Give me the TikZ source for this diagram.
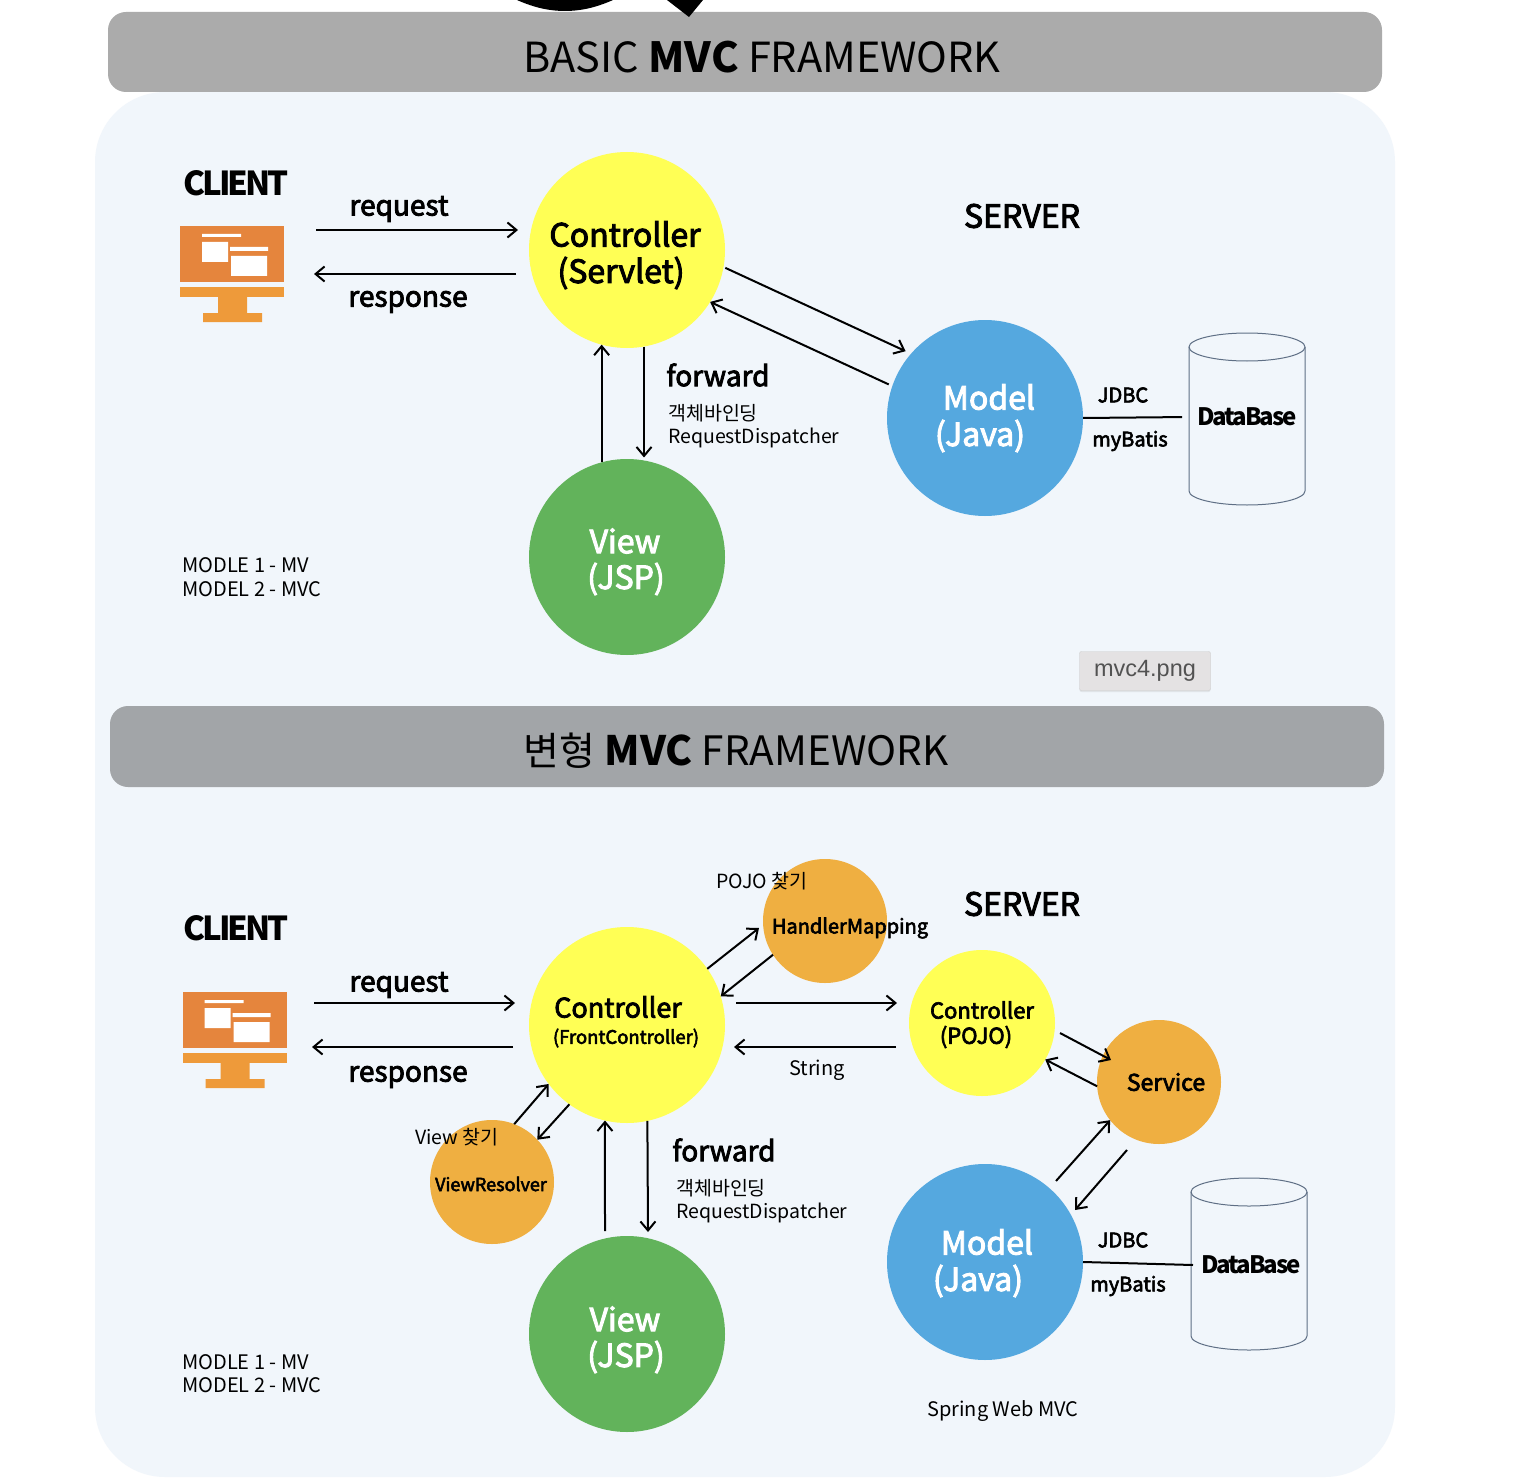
\documentclass[tikz,border=0pt]{standalone}
\usepackage{fontspec}
\setmainfont{Noto Sans CJK KR}
\newfontfamily\medfont{Noto Sans CJK KR}[FakeBold=3]
\newfontfamily\tightfont{Noto Sans CJK KR}[LetterSpace=-9]
\newfontfamily\tagfont{Liberation Sans}
\usetikzlibrary{arrows.meta}
\usetikzlibrary{shadows}
\definecolor{panelbg}{HTML}{F1F6FB}
\definecolor{barA}{HTML}{ABABAB}
\definecolor{barB}{HTML}{A2A5A8}
\definecolor{ctrlyellow}{HTML}{FFFF55}
\definecolor{viewgreen}{HTML}{62B35B}
\definecolor{modelblue}{HTML}{55A8DF}
\definecolor{helperorange}{HTML}{EFAF41}
\definecolor{iconorange}{HTML}{E5853D}
\definecolor{iconlight}{HTML}{EE9A3A}
\definecolor{dbline}{HTML}{5F6F85}
\definecolor{tagfill}{HTML}{E4E2E3}
\newcommand{\fs}[1]{\fontsize{#1}{#1}\selectfont}
\tikzset{
	>={Straight Barb[length=9pt,width=15pt]},
	flow/.style={->,line width=2pt,black},
	bigcircle/.style={circle,minimum size=196pt,inner sep=0pt,outer sep=0pt},
	midcircle/.style={circle,fill=helperorange,minimum size=124pt,inner sep=0pt,outer sep=0pt},
	titlebar/.style={rounded corners=18pt},
	titletext/.style={inner sep=0pt,font=\fs{41.5}},
	bold label/.style={inner sep=0pt,font=\medfont\fs{28}},
	big label/.style={inner sep=0pt,font=\medfont\fs{32}},
	white label/.style={inner sep=0pt,text=white,font=\medfont\fs{32}},
	small label/.style={inner sep=0pt,font=\fs{19.5}},
	client label/.style={inner sep=0pt,font=\tightfont\bfseries\fs{33}},
	dbstore/.style={minimum height=172pt,minimum width=116pt,inner sep=0pt,outer sep=0pt,font=\tightfont\bfseries\fs{24}},
	pics/dbshape/.style={code={
		\draw[dbline,line width=1pt] (0,-72) ellipse [x radius=58pt,y radius=14pt];
		\draw[dbline,line width=1pt] (-58,-72) -- (-58,72) arc [start angle=180,end angle=360,x radius=58pt,y radius=14pt] -- (58,-72);
	}},
	pics/clienticon/.style={code={
		\fill[iconorange] (0,0) rectangle (104,56);
		\fill[white] (22,8) rectangle (61,11) (22,16) rectangle (48,36);
		\fill[white] (50,21) rectangle (88,25) (51,30) rectangle (87,50);
		\fill[iconlight] (0,61) rectangle (104,71);
		\fill[iconlight] (38,71) rectangle (67,87) (23,87) rectangle (82,96);
	}}
}
\begin{document}
\begin{tikzpicture}[x=1pt,y=-1pt]
	\useasboundingbox (0,0) rectangle (1524,1482);
	\fill[white] (0,0) rectangle (1524,1482);
	\fill[panelbg,rounded corners=70pt] (95,92) rectangle (1395,1477);
	\fill[barA,titlebar] (108,12) rectangle (1382,92);
	\fill[barB,titlebar] (110,706) rectangle (1384,787);
	\fill[black] (517,0) .. controls (535,8) and (550,11) .. (565,11) .. controls (580,11) and (595,8) .. (613,0) -- cycle;
	\fill[black] (667,0) -- (703,0) -- (689,17) -- cycle;

	\node[titletext] (titleA) at (762,57) {BASIC {\bfseries MVC} FRAMEWORK};
	\node[titletext,font=\fs{40.5}] (titleB) at (736,751) {{\fs{39}변형} {\bfseries MVC} FRAMEWORK};

	% basic framework
	\pic at (180,226) {clienticon};
	\node[client label] (clientA) at (236,183) {CLIENT};
	\node[bigcircle,fill=ctrlyellow] (ctrlA) at (627,250) {};
	\node[bigcircle,fill=viewgreen] (viewA) at (627,557) {};
	\node[bigcircle,fill=modelblue] (modelA) at (985,418) {};
	\pic at (1247,419) {dbshape};
	\node[dbstore] (dbA) at (1247,417) {DataBase};
	\node[big label] (ctrlAa) at (625,234) {Controller};
	\node[big label] (ctrlAb) at (621,273) {(Servlet)};
	\node[white label] (viewAa) at (625,541) {View};
	\node[white label] (viewAb) at (626,579) {(JSP)};
	\node[white label] (modelAa) at (989,397) {Model};
	\node[white label] (modelAb) at (980,436) {(Java)};
	\node[bold label] (reqA) at (399,209) {request};
	\node[bold label] (resA) at (408,302) {response};
	\node[bold label,font=\medfont\fs{32}] (serverA) at (1022,216) {SERVER};
	\node[bold label] (fwdA) at (718,375) {forward};
	\node[small label,anchor=west] (bindA) at (668,413) {객체바인딩};
	\node[small label,anchor=west] (dispA) at (668,438) {RequestDispatcher};
	\node[small label,font=\medfont\fs{20}] (jdbcA) at (1123,395) {JDBC};
	\node[small label,font=\medfont\fs{20}] (batisA) at (1130,441) {myBatis};
	\node[small label,anchor=west,font=\fs{20}] (noteAa) at (182,565) {MODLE 1 - MV};
	\node[small label,anchor=west,font=\fs{20}] (noteAb) at (182,589) {MODEL 2 - MVC};
	\node[draw=black!20,fill=tagfill,text=black!68,rounded corners=2pt,minimum width=131pt,minimum height=39pt,inner sep=0pt,font=\tagfont\fs{23.5},drop shadow={shadow xshift=0pt,shadow yshift=-1.5pt,opacity=.15}] (fileA) at (1145,671) {\raisebox{-2pt}{mvc4.png}};

	\coordinate (fromClientA) at (316,230);
	\coordinate (toCtrlA) at (518,230);
	\coordinate (fromCtrlA) at (516,274);
	\coordinate (toClientA) at (314,274);
	\path[flow]
	(fromClientA) edge (toCtrlA)
	(fromCtrlA) edge (toClientA)
	(ctrlA.-10) edge[shorten <=2pt,shorten >=6pt] (modelA.139)
	(modelA.161) edge[shorten <=4pt] (ctrlA.-32)
	(ctrlA.-80) edge[shorten >=3pt] (viewA.80)
	(viewA.105) edge (ctrlA.-105)
	;
	\draw[line width=2pt,shorten >=7pt] (modelA.east) -- (dbA.west);

	% changed framework
	\pic at (182.5,992) {clienticon};
	\node[client label] (clientB) at (236,928) {CLIENT};
	\node[bigcircle,fill=ctrlyellow] (ctrlB) at (627,1025) {};
	\node[bigcircle,fill=viewgreen] (viewB) at (627,1334) {};
	\node[bigcircle,fill=modelblue] (modelB) at (985,1262) {};
	\node[midcircle] (handlerB) at (825,921) {};
	\node[midcircle] (serviceB) at (1159,1082) {};
	\node[midcircle] (resolverB) at (492,1182) {};
	\node[circle,fill=ctrlyellow,minimum size=146pt,inner sep=0pt,outer sep=0pt] (pojoB) at (982,1023) {};
	\pic at (1249,1264) {dbshape};
	\node[dbstore] (dbB) at (1251,1265) {DataBase};
	\node[inner sep=0pt,font=\medfont\fs{27}] (ctrlBa) at (618,1007) {Controller};
	\node[inner sep=0pt,font=\medfont\fs{18.5}] (ctrlBb) at (626,1038) {(FrontController)};
	\node[white label] (viewBa) at (625,1319) {View};
	\node[white label] (viewBb) at (626,1357) {(JSP)};
	\node[white label] (modelBa) at (987,1242) {Model};
	\node[white label] (modelBb) at (978,1281) {(Java)};
	\node[inner sep=0pt,font=\medfont\fs{22}] (pojoBa) at (982,1010) {Controller};
	\node[inner sep=0pt,font=\medfont\fs{22}] (pojoBb) at (976,1037) {(POJO)};
	\node[inner sep=0pt,font=\medfont\fs{20}] (handlerText) at (850,928) {HandlerMapping};
	\node[inner sep=0pt,font=\medfont\fs{23}] (serviceText) at (1166,1082) {Service};
	\node[inner sep=0pt,font=\medfont\fs{18}] (resolverText) at (491,1184) {ViewResolver};
	\node[bold label] (reqB) at (399,985) {request};
	\node[bold label] (resB) at (408,1077) {response};
	\node[bold label,font=\medfont\fs{32}] (serverB) at (1022,904) {SERVER};
	\node[bold label] (fwdB) at (724,1150) {forward};
	\node[small label,anchor=west] (bindB) at (676,1188) {객체바인딩};
	\node[small label,anchor=west] (dispB) at (676,1213) {RequestDispatcher};
	\node[small label,font=\fs{20}] (stringB) at (817,1070) {String};
	\node[small label] (pojoFind) at (762,881) {POJO 찾기};
	\node[small label] (viewFind) at (457,1137) {View 찾기};
	\node[small label,font=\medfont\fs{20}] (jdbcB) at (1123,1240) {JDBC};
	\node[small label,font=\medfont\fs{20}] (batisB) at (1128,1286) {myBatis};
	\node[small label,anchor=west,font=\fs{20}] (noteBa) at (182,1362) {MODLE 1 - MV};
	\node[small label,anchor=west,font=\fs{20}] (noteBb) at (182,1385) {MODEL 2 - MVC};
	\node[small label,font=\fs{20}] (springB) at (1003,1411) {Spring Web MVC};

	\coordinate (fromClientB) at (314,1003);
	\coordinate (toCtrlB) at (515,1003);
	\coordinate (fromCtrlB) at (513,1047);
	\coordinate (toClientB) at (312,1047);
	\coordinate (ctrlOut) at (736,1003);
	\coordinate (pojoIn) at (897,1003);
	\coordinate (pojoOut) at (896,1047);
	\coordinate (ctrlIn) at (734,1047);
	\coordinate (pojoExit) at (1060,1033);
	\coordinate (serviceIn) at (1111,1060);
	\coordinate (serviceOut) at (1127,1150);
	\coordinate (modelIn) at (1075,1210);
	\coordinate (modelOut) at (1056,1181);
	\coordinate (handlerIn) at (759,928);
	\coordinate (viewOut) at (605,1231);
	\coordinate (viewIn) at (648,1232);
	\path[flow]
	(fromClientB) edge (toCtrlB)
	(fromCtrlB) edge (toClientB)
	(ctrlB.35) edge (handlerIn)
	(handlerB.213) edge (ctrlB.17)
	(ctrlOut) edge (pojoIn)
	(pojoOut) edge (ctrlIn)
	(pojoExit) edge (serviceIn)
	(serviceB.184) edge (pojoB.-30)
	(serviceOut) edge (modelIn)
	(modelOut) edge (serviceB.218)
	(ctrlB.-126) edge (resolverB.43)
	(resolverB.69) edge (ctrlB.-143)
	(viewOut) edge (ctrlB.-103)
	(ctrlB.-78) edge (viewIn)
	;
	\draw[line width=2pt] (modelB.east) -- (dbB.west);
\end{tikzpicture}
\end{document}
